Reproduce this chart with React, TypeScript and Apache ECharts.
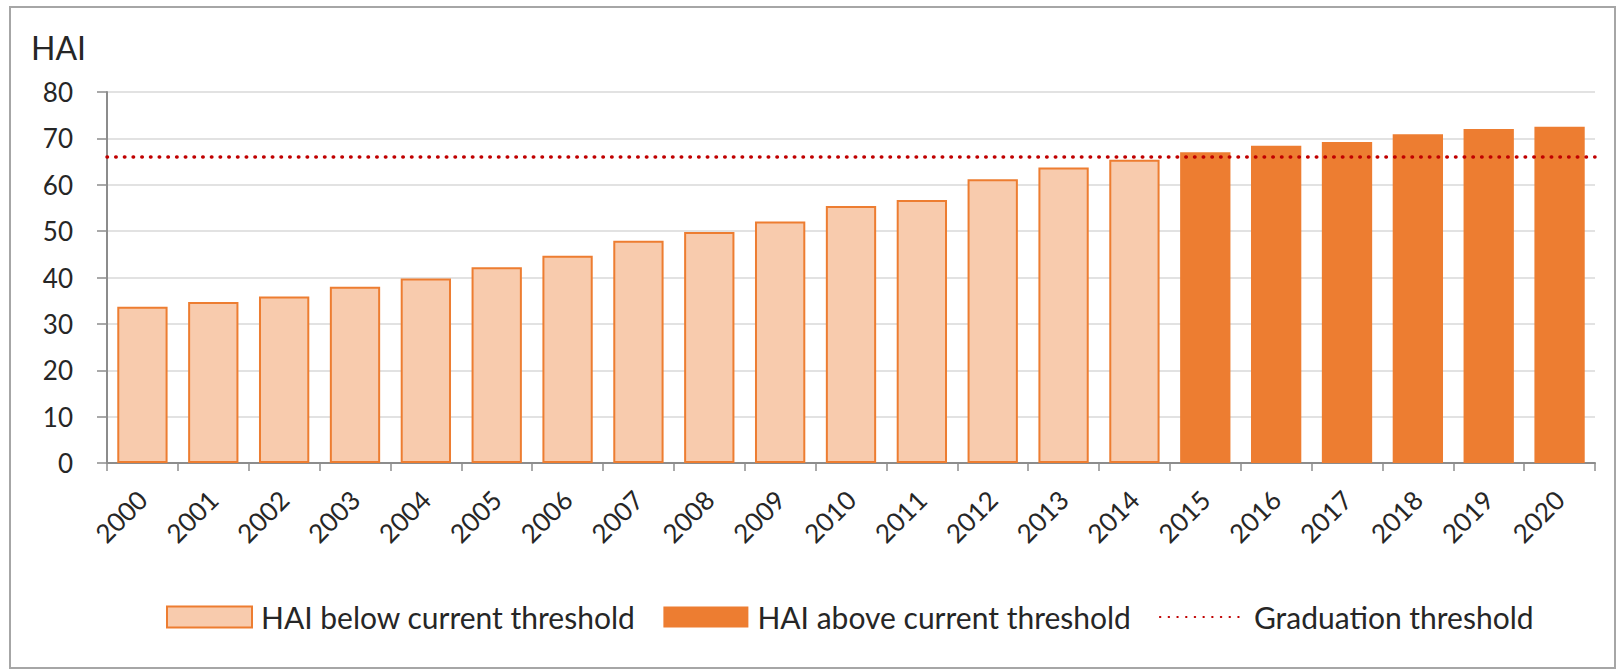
import React, { useEffect, useRef } from "react";
import * as echarts from "echarts";

const years = ["2000","2001","2002","2003","2004","2005","2006","2007","2008","2009","2010","2011","2012","2013","2014","2015","2016","2017","2018","2019","2020"];
const belowValues = [33.7, 34.7, 35.9, 38.0, 39.8, 42.2, 44.7, 47.9, 49.8, 52.1, 55.4, 56.7, 61.2, 63.7, 65.4];
const aboveValues = [67.0, 68.4, 69.2, 70.9, 72.0, 72.5];
const graduationThreshold = 66;
const yTicks = { min: 0, max: 80, interval: 10 };

const belowSeries = years.map((_, i) => (i < belowValues.length ? belowValues[i] : "-"));
const aboveSeries = years.map((_, i) => (i >= belowValues.length ? aboveValues[i - belowValues.length] : "-"));

const FONT = "Lato";
const TEXT = "#262626";
const DOTS = { color: "#c00000", width: 3.5, type: [0.5, 8.2], cap: "round" };

export default function App() {
  const ref = useRef<HTMLDivElement>(null);
  useEffect(() => {
    if (!ref.current) return;
    const chart = echarts.init(ref.current, undefined, { renderer: "svg" });
    chart.setOption({
      animation: false,
      backgroundColor: "#ffffff",
      textStyle: { fontFamily: FONT, color: TEXT },
      title: {
        text: "HAI",
        left: 26,
        top: 26,
        textStyle: { fontFamily: FONT, fontSize: 32, fontWeight: "normal", color: TEXT },
      },
      graphic: [
        {
          type: "rect",
          shape: { x: 10, y: 7, width: 1605, height: 661 },
          style: { fill: "none", stroke: "#a6a6a6", lineWidth: 2 },
          silent: true,
        },
      ],
      grid: { left: 107, right: 24, top: 92, bottom: 208, containLabel: false },
      legend: {
        left: 161,
        top: 597,
        itemWidth: 85,
        itemHeight: 21,
        itemGap: 28,
        textStyle: { fontFamily: FONT, fontSize: 30, color: TEXT, padding: [0, 0, 0, 4] },
        data: [
          { name: "HAI below current threshold", icon: "rect" },
          { name: "HAI above current threshold", icon: "rect" },
          { name: "Graduation threshold", itemStyle: { opacity: 0 } },
        ],
      },
      xAxis: {
        type: "category",
        data: years,
        boundaryGap: true,
        axisLine: { lineStyle: { color: "#8c8c8c", width: 2 } },
        axisTick: { show: true, length: 8, lineStyle: { color: "#8c8c8c", width: 1.5 } },
        axisLabel: { rotate: 45, fontSize: 26, color: TEXT, fontFamily: FONT, margin: 32, interval: 0 },
      },
      yAxis: {
        type: "value",
        min: yTicks.min,
        max: yTicks.max,
        interval: yTicks.interval,
        axisLine: { show: true, lineStyle: { color: "#8c8c8c", width: 2 } },
        axisTick: { show: true, length: 10, lineStyle: { color: "#8c8c8c", width: 1.5 } },
        axisLabel: { fontSize: 26, color: TEXT, fontFamily: FONT, margin: 34 },
        splitLine: { show: true, lineStyle: { color: "#d9d9d9", width: 1.5 } },
      },
      series: [
        {
          name: "HAI below current threshold",
          type: "bar",
          stack: "hai",
          data: belowSeries,
          barCategoryGap: "29%",
          itemStyle: { color: "#f8cbad", borderColor: "#ed7d31", borderWidth: 2 },
        },
        {
          name: "HAI above current threshold",
          type: "bar",
          stack: "hai",
          data: aboveSeries,
          barCategoryGap: "29%",
          itemStyle: { color: "#ed7d31", borderColor: "#ed7d31", borderWidth: 0 },
        },
        {
          name: "Graduation threshold",
          type: "line",
          data: [],
          symbol: "none",
          lineStyle: DOTS,
          itemStyle: { color: "#c00000" },
          markLine: {
            silent: true,
            symbol: "none",
            label: { show: false },
            lineStyle: DOTS,
            data: [{ yAxis: graduationThreshold }],
          },
        },
      ],
    });
    return () => chart.dispose();
  }, []);
  return (
    <div
      ref={ref}
      style={{ position: "fixed", left: 0, top: 0, width: 1619, height: 671 }}
    />
  );
}
